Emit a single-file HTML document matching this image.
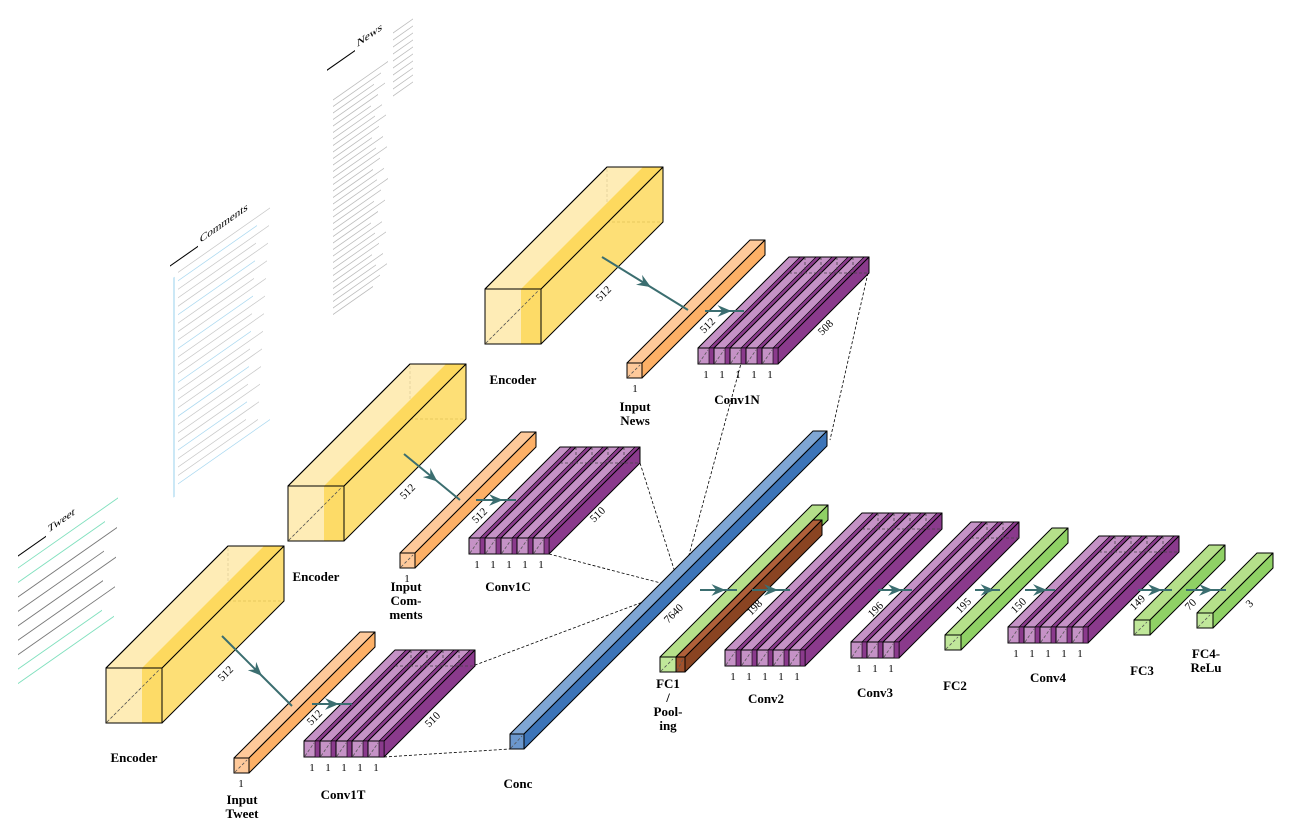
<!DOCTYPE html>
<html><head><meta charset="utf-8">
<style>
html,body{margin:0;padding:0;background:#fff;}
svg{display:block;font-family:"Liberation Serif","DejaVu Serif",serif;}
.lb{font-weight:bold;font-size:13px;text-anchor:middle;}
.num{font-size:11px;}
</style></head><body>
<svg id="s" width="1297" height="836" viewBox="0 0 1297 836" xmlns="http://www.w3.org/2000/svg">
<defs>
<marker id="ah" viewBox="0 0 12 10" refX="6" refY="5" markerWidth="14" markerHeight="12" orient="auto" markerUnits="userSpaceOnUse">
<path d="M0,0 L12,5 L0,10 L4,5 Z" fill="#3b6e70"/></marker>
</defs>
<g id="docs"></g>
<g id="g"></g>
</svg>
<script>
var NS="http://www.w3.org/2000/svg",G=document.getElementById('g'),D=document.getElementById('docs');
function el(t,a,p,txt){var e=document.createElementNS(NS,t);for(var k in a)e.setAttribute(k,a[k]);if(txt!==undefined&&txt!==null)e.textContent=txt;(p||G).appendChild(e);return e;}
function poly(pts,fill,extra){var a={points:pts.map(function(p){return p.join(',')}).join(' '),fill:fill,stroke:'#000','stroke-width':1,'stroke-linejoin':'round'};for(var k in extra)a[k]=extra[k];return el('polygon',a);}
function dash(x1,y1,x2,y2,c){el('line',{x1:x1,y1:y1,x2:x2,y2:y2,stroke:c||'#000','stroke-width':0.8,'stroke-dasharray':'3,2'});}
function box(x,y,w,h,d,cf,ct,cs,strip,cstrip,hidden){
  if(hidden){dash(x,y+h,x+d,y+h-d,'#333');dash(x+d,y+h-d,x+d,y-d,'#333');dash(x+d,y+h-d,x+w+d,y+h-d,'#333');}
  poly([[x,y],[x+d,y-d],[x+w+d,y-d],[x+w,y]],ct,{'fill-opacity':hidden?0.85:1});
  poly([[x+w,y],[x+w+d,y-d],[x+w+d,y+h-d],[x+w,y+h]],cs,{'fill-opacity':hidden?0.85:1});
  if(strip){poly([[x+w-strip,y],[x+w-strip+d,y-d],[x+w+d,y-d],[x+w,y]],cstrip,{stroke:'none'});
    el('line',{x1:x,y1:y,x2:x+d,y2:y-d,stroke:'#000','stroke-width':1});
    el('line',{x1:x+w,y1:y,x2:x+w+d,y2:y-d,stroke:'#000','stroke-width':1});
    el('line',{x1:x+d,y1:y-d,x2:x+w+d,y2:y-d,stroke:'#000','stroke-width':1});}
  el('rect',{x:x,y:y,width:w,height:h,fill:cf,stroke:'#000','stroke-width':1,'fill-opacity':hidden?0.85:1});
  if(strip) el('rect',{x:x+w-strip,y:y,width:strip,height:h,fill:cstrip,stroke:'none','fill-opacity':0.9});
  if(strip) el('rect',{x:x,y:y,width:w,height:h,fill:'none',stroke:'#000','stroke-width':1});
  dash(x+1,y+h-1,x+Math.min(w,h)-2,y+2,'#555');
}
function conv(x,y,n,h,d){
  var sw=16;
  for(var i=0;i<n;i++){
    var X=x+i*sw;
    poly([[X,y],[X+d,y-d],[X+sw+d,y-d],[X+sw,y]],'#c592c6');
    poly([[X+sw-5,y],[X+sw-5+d,y-d],[X+sw+d,y-d],[X+sw,y]],'#8a3a8c',{'stroke-width':0.7});
  }
  var X=x+n*sw;
  poly([[X,y],[X+d,y-d],[X+d,y+h-d],[X,y+h]],'#8a3a8c');
  for(var i=0;i<n;i++){var X=x+i*sw;
    el('rect',{x:X,y:y,width:sw,height:h,fill:'#c592c6',stroke:'#000','stroke-width':1});
    el('rect',{x:X+sw-5,y:y,width:5,height:h,fill:'#8a3a8c',stroke:'#000','stroke-width':0.6});
    dash(X+1,y+h-1,X+sw-6,y+2,'#555');
    el('text',{x:X+8,y:y+h+14,class:'num','text-anchor':'middle'},null,'1');
  }
  for(var i=1;i<n;i++){dash(x+i*sw+d,y-d,x+i*sw+d,y-d+h,'#444');}
  dash(x+d,y-d+h,x+n*sw+d,y-d+h,'#444');
}
function rtext(x,y,t,sz){el('text',{x:x,y:y,transform:'rotate(-45 '+x+' '+y+')',style:'font-size:'+(sz||11)+'px','text-anchor':'middle'},null,t);}
function lab(x,y,lines){lines.forEach(function(l,i){el('text',{x:x,y:y+i*14,class:'lb'},null,l);});}
function arrow(x1,y1,x2,y2){var mx=(x1+x2)/2,my=(y1+y2)/2;
  el('path',{d:'M'+x1+','+y1+' L'+mx+','+my+' L'+x2+','+y2,stroke:'#3b6e70','stroke-width':2,fill:'none','marker-mid':'url(#ah)'});}

// documents (sheared panels)
function doc(x,y,w,h,title,lines,colorful){
  var g=el('g',{transform:'translate('+x+','+y+') skewY(-35)'},D);
  el('line',{x1:0,y1:-4,x2:28,y2:-4,stroke:'#000','stroke-width':1.3},g);
  el('text',{x:30,y:-6,style:'font-size:11px'},g,title);
  for(var i=0;i<lines;i++){
    var c='#c8c8c8',sw=0.9;
    if(colorful==1&&(i%4==1))c='#a9d8f0';
    if(colorful==2){c=(i<2||i>6)?'#7fe0bd':'#777';sw=1.1;}
    el('line',{x1:colorful==2?0:8,y1:8+i*(h/lines),x2:w-(i*13%25),y2:8+i*(h/lines),stroke:c,'stroke-width':sw},g);
  }
  return g;
}
doc(18,560,100,130,'Tweet',9,2);
var cg=doc(170,270,100,220,'Comments',26,1);
el('line',{x1:4,y1:10,x2:4,y2:230,stroke:'#a9d8f0','stroke-width':1.2},cg);
(function(){var g=el('g',{transform:'translate(333,70) skewY(-35)'},D);
 el('line',{x1:-6,y1:-4,x2:22,y2:-4,stroke:'#000','stroke-width':1.3},g);
 el('text',{x:24,y:-6,style:'font-size:11px'},g,'News');
 for(var i=0;i<34;i++){el('line',{x1:0,y1:30+i*6.5,x2:55-(i*7%18),y2:30+i*6.5,stroke:'#bbb','stroke-width':0.9},g);}
 for(var i=0;i<10;i++){el('line',{x1:60,y1:5+i*7,x2:80,y2:5+i*7,stroke:'#bbb','stroke-width':0.9},g);}
})();

var Y='#fee9a9',YD='#fdd95e',O='#fec99a',OD='#fdb066';
// Encoders
box(106,668,56,55,122,Y,Y,YD,20,YD,true);
box(288,486,56,55,122,Y,Y,YD,20,YD,true);
box(485,289,56,55,122,Y,Y,YD,20,YD,true);
rtext(228,676,'512');rtext(410,494,'512');rtext(606,296,'512');
// dashed lines (behind)
dash(384,757,510,749);dash(470,667,680,588);dash(549,554,680,588);dash(640,463,680,588);
dash(755,312,680,588);dash(868,273,830,440);
// inputs
box(234,758,15,15,126,O,O,OD);
box(400,553,15,15,121,O,O,OD);
box(627,363,15,15,123,O,O,OD);
// convs
conv(304,741,5,16,91);conv(469,538,5,16,91);conv(698,348,5,16,91);
rtext(317,720,'512');rtext(482,518,'512');rtext(710,328,'512');
rtext(435,722,'510');rtext(600,517,'510');rtext(828,330,'508');
// arrows from encoders
arrow(222,636,292,706);arrow(312,704,352,704);
arrow(404,454,460,500);arrow(476,500,516,500);
arrow(602,257,688,310);arrow(705,311,744,311);
// Conc
box(510,734,14,15,303,'#6b97cc','#7fa6d4','#3c74b8');
rtext(676,616,'7640');
// FC1 with brown
box(660,657,16,15,152,'#c0e79a','#b5e08a','#8fd165');
box(676,657,9,15,137,'#a0522d','#b0603a','#8a4422');
rtext(757,610,'198');
conv(725,650,5,16,137);
conv(851,642,3,16,120);rtext(878,612,'196');
box(945,635,16,15,107,'#c0e79a','#b5e08a','#8fd165');rtext(966,608,'195');
conv(1008,627,5,16,91);rtext(1021,608,'150');
box(1134,620,16,15,75,'#c0e79a','#b5e08a','#8fd165');rtext(1140,605,'149');
box(1197,613,16,15,60,'#c0e79a','#b5e08a','#8fd165');rtext(1193,607,'70');rtext(1252,606,'3');
[[700,737],[752,790],[878,912],[975,1000],[1025,1055],[1138,1172],[1186,1226]].forEach(function(a){arrow(a[0],590,a[1],590);});
// labels
el('text',{x:241,y:787,style:'font-size:11px','text-anchor':'middle'},null,'1');
el('text',{x:407,y:582,style:'font-size:11px','text-anchor':'middle'},null,'1');
el('text',{x:635,y:392,style:'font-size:11px','text-anchor':'middle'},null,'1');
lab(134,762,['Encoder']);lab(316,581,['Encoder']);lab(513,384,['Encoder']);
lab(242,804,['Input','Tweet']);lab(406,591,['Input','Com-','ments']);lab(635,411,['Input','News']);
lab(343,799,['Conv1T']);lab(508,591,['Conv1C']);lab(737,404,['Conv1N']);
lab(518,788,['Conc']);lab(668,688,['FC1','/','Pool-','ing']);lab(766,703,['Conv2']);
lab(875,697,['Conv3']);lab(955,690,['FC2']);lab(1048,682,['Conv4']);
lab(1142,675,['FC3']);lab(1206,658,['FC4-','ReLu']);
</script>
</body></html>
